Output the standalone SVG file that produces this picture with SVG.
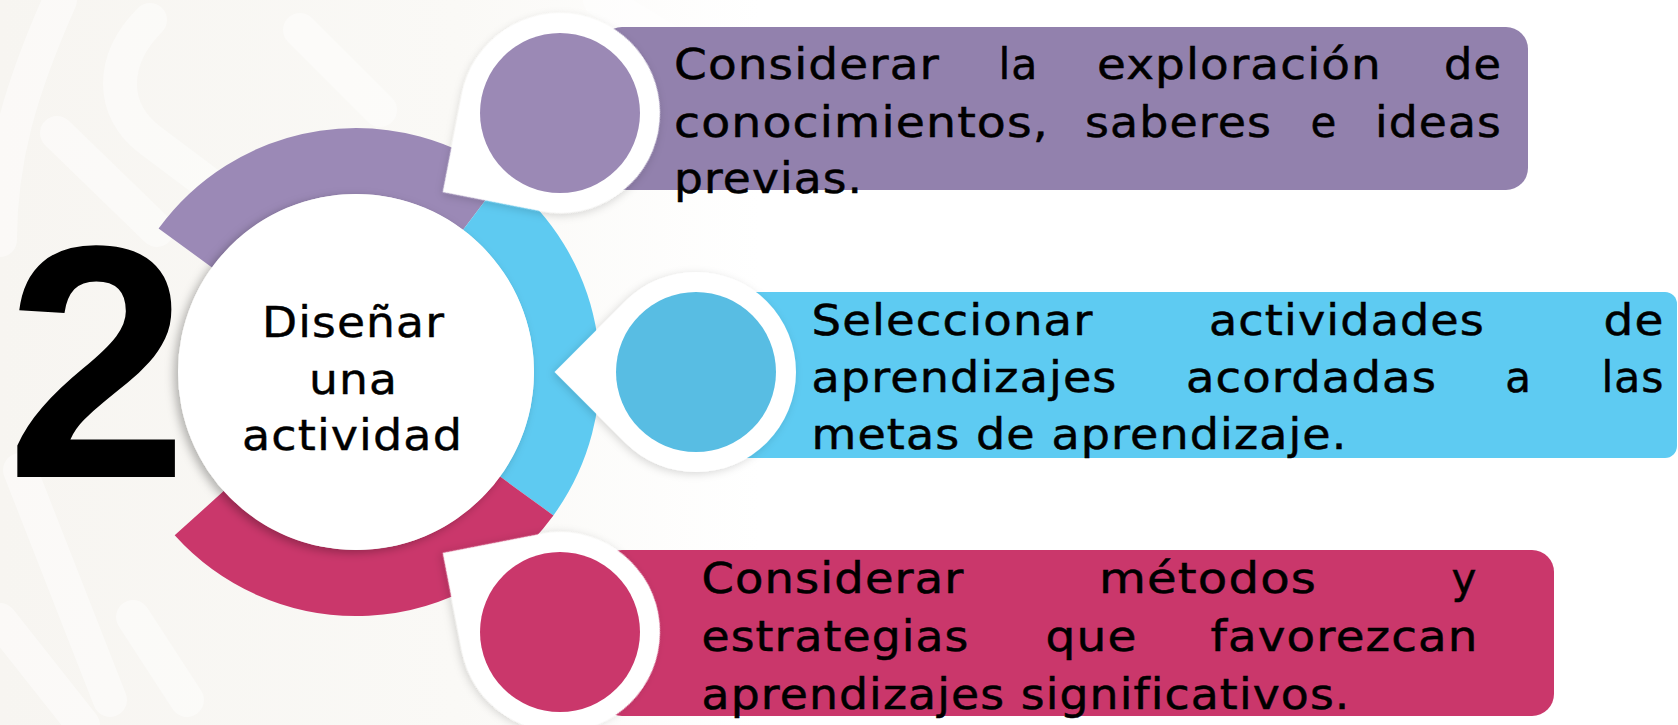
<svg xmlns="http://www.w3.org/2000/svg" width="1678" height="725" viewBox="0 0 1678 725">
<defs>
<style>
.t{font-family:"DejaVu Sans","Liberation Sans",sans-serif;font-size:42px;fill:#000;stroke:#000;stroke-width:0.5;letter-spacing:1px}
.c{font-family:"DejaVu Sans","Liberation Sans",sans-serif;font-size:42px;fill:#000;stroke:#000;stroke-width:0.4;letter-spacing:1px}
.big{font-family:"Liberation Sans","DejaVu Sans",sans-serif;font-weight:bold;font-size:332px;fill:#000}
.ring{fill:none;stroke-width:66}
.wm{fill:none;stroke:#ffffff;stroke-linecap:round;stroke-width:34;opacity:0.45}
</style>
<linearGradient id="bg" x1="0" y1="0" x2="760" y2="0" gradientUnits="userSpaceOnUse">
<stop offset="0" stop-color="#F7F5F1"/>
<stop offset="0.6" stop-color="#FAF9F6"/>
<stop offset="1" stop-color="#FFFFFF"/>
</linearGradient>
<filter id="sh" x="-30%" y="-30%" width="160%" height="160%">
<feDropShadow dx="-4" dy="3" stdDeviation="5" flood-color="#000" flood-opacity="0.28"/>
</filter>
<filter id="sh2" x="-30%" y="-30%" width="160%" height="160%">
<feDropShadow dx="-2" dy="2" stdDeviation="4" flood-color="#000" flood-opacity="0.15"/>
</filter>
<path id="drop" d="M -141.42 0 L -70.71 -70.71 A 100 100 0 1 1 -70.71 70.71 Z"/>
</defs>

<g id="background">
<rect x="0" y="0" width="1678" height="725" fill="#FFFFFF"/>
<rect x="0" y="0" width="760" height="725" fill="url(#bg)"/>
<path class="wm" d="M 60 0 C 20 90 0 160 0 240"/>
<path class="wm" d="M 150 20 C 110 60 110 110 150 140 L 230 200"/>
<path class="wm" d="M 300 30 L 380 110"/>
<path class="wm" d="M 57 133 L 157 230"/>
<path class="wm" d="M 0 620 L 83 725"/>
<path class="wm" d="M 133 617 L 187 700"/>
<path class="wm" d="M 20 470 L 110 700"/>
<path class="wm" d="M 600 0 L 700 60"/>
</g>

<g id="ring">
<path class="ring" stroke="#9B89B6" d="M 185.3 248.0 A 211 211 0 0 1 483.0 203.5"/>
<path class="ring" stroke="#5ECAF1" d="M 483.0 203.5 A 211 211 0 0 1 526.7 496.0"/>
<path class="ring" stroke="#CA376B" d="M 526.7 496.0 A 211 211 0 0 1 199.2 513.2"/>
</g>

<g id="number">
<text class="big" x="6" y="477" textLength="182" lengthAdjust="spacingAndGlyphs">2</text>
</g>

<g id="center">
<circle cx="356" cy="372" r="178" fill="#FFFFFF" filter="url(#sh)"/>
<text class="c" x="262" y="337" textLength="183" lengthAdjust="spacingAndGlyphs">Diseñar</text>
<text class="c" x="309" y="393.5" textLength="89" lengthAdjust="spacingAndGlyphs">una</text>
<text class="c" x="242" y="449.5" textLength="221" lengthAdjust="spacingAndGlyphs">actividad</text>
</g>

<g id="box1">
<rect x="600" y="27" width="928" height="163" rx="22" fill="#9281AD"/>
<g transform="translate(560 113) rotate(-34)" filter="url(#sh2)"><use href="#drop" fill="#FFFFFF"/></g>
<circle cx="560" cy="113" r="80" fill="#9B89B5"/>
<text class="t" x="674" y="79" textLength="266" lengthAdjust="spacingAndGlyphs">Considerar</text>
<text class="t" x="998.5" y="79" textLength="40" lengthAdjust="spacingAndGlyphs">la</text>
<text class="t" x="1097" y="79" textLength="285" lengthAdjust="spacingAndGlyphs">exploración</text>
<text class="t" x="1444" y="79" textLength="58" lengthAdjust="spacingAndGlyphs">de</text>
<text class="t" x="674" y="137" textLength="375" lengthAdjust="spacingAndGlyphs">conocimientos,</text>
<text class="t" x="1085" y="137" textLength="187" lengthAdjust="spacingAndGlyphs">saberes</text>
<text class="t" x="1324" y="137" text-anchor="middle">e</text>
<text class="t" x="1375" y="137" textLength="127" lengthAdjust="spacingAndGlyphs">ideas</text>
<text class="t" x="674" y="193" textLength="189" lengthAdjust="spacingAndGlyphs">previas.</text>
</g>

<g id="box2">
<rect x="700" y="292" width="977" height="166" rx="12" fill="#5ECBF2"/>
<g transform="translate(696 372)" filter="url(#sh2)"><use href="#drop" fill="#FFFFFF"/></g>
<circle cx="696" cy="372" r="80" fill="#58BDE3"/>
<text class="t" x="811.5" y="335" textLength="282" lengthAdjust="spacingAndGlyphs">Seleccionar</text>
<text class="t" x="1209" y="335" textLength="276" lengthAdjust="spacingAndGlyphs">actividades</text>
<text class="t" x="1603.5" y="335" textLength="61" lengthAdjust="spacingAndGlyphs">de</text>
<text class="t" x="811.5" y="392" textLength="306" lengthAdjust="spacingAndGlyphs">aprendizajes</text>
<text class="t" x="1186" y="392" textLength="251" lengthAdjust="spacingAndGlyphs">acordadas</text>
<text class="t" x="1518.5" y="392" text-anchor="middle">a</text>
<text class="t" x="1601.5" y="392" textLength="63" lengthAdjust="spacingAndGlyphs">las</text>
<text class="t" x="811.5" y="449" textLength="536" lengthAdjust="spacingAndGlyphs">metas de aprendizaje.</text>
</g>

<g id="box3">
<rect x="600" y="550" width="954" height="166" rx="22" fill="#CA376B"/>
<g transform="translate(560 632) rotate(34)" filter="url(#sh2)"><use href="#drop" fill="#FFFFFF"/></g>
<circle cx="560" cy="632" r="80" fill="#CA376B"/>
<text class="t" x="701.5" y="593" textLength="263" lengthAdjust="spacingAndGlyphs">Considerar</text>
<text class="t" x="1099" y="593" textLength="218" lengthAdjust="spacingAndGlyphs">métodos</text>
<text class="t" x="1464.5" y="593" text-anchor="middle">y</text>
<text class="t" x="701.5" y="651" textLength="268" lengthAdjust="spacingAndGlyphs">estrategias</text>
<text class="t" x="1045.5" y="651" textLength="92" lengthAdjust="spacingAndGlyphs">que</text>
<text class="t" x="1210.5" y="651" textLength="268" lengthAdjust="spacingAndGlyphs">favorezcan</text>
<text class="t" x="701.5" y="709" textLength="649" lengthAdjust="spacingAndGlyphs">aprendizajes significativos.</text>
</g>
</svg>
